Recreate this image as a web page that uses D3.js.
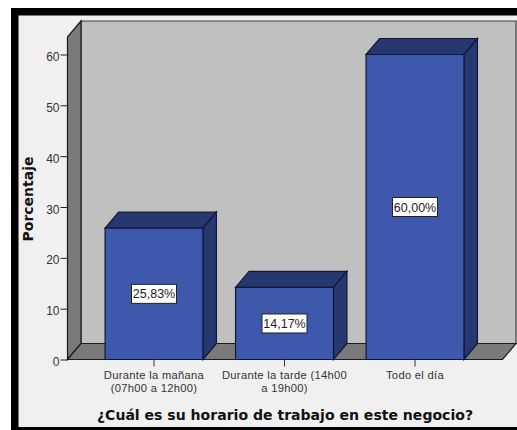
<!DOCTYPE html>
<html><head><meta charset="utf-8">
<script src="https://cdn.jsdelivr.net/npm/d3@7"></script>
<style>html,body{margin:0;padding:0;background:#fff}svg{display:block}</style></head>
<body><svg id="c" width="517" height="430"></svg>
<script>
const categories = ["Durante la mañana", "Durante la tarde", "Todo el día"];
const catLines = [["Durante la mañana","(07h00 a 12h00)"],["Durante la tarde (14h00","a 19h00)"],["Todo el día"]];
const values = [25.83, 14.17, 60.00];
const valueLabels = ["25,83%", "14,17%", "60,00%"];
const yTicks = [0,10,20,30,40,50,60];
const yTitle = "Porcentaje";
const xTitle = "¿Cuál es su horario de trabajo en este negocio?";

const svg = d3.select("#c");
const y = d3.scaleLinear().domain([0,60]).range([359.5,54.5]);
const x = d3.scaleBand().domain(categories).range([88.75,480.25]).paddingInner(0.25).paddingOuter(0.125);
const dx = 13.5, dy = 16;
const L = 67.5, R = 502.5, B = y(0), T = 37;
const line = d3.line();
const poly = (pts,fill,stroke="#1c1c1c",w=1.2)=>svg.append("path").attr("d",line(pts)+"Z").attr("fill",fill).attr("stroke",stroke).attr("stroke-width",w).attr("stroke-linejoin","miter");

// background and frame
svg.append("rect").attr("x",11).attr("y",8).attr("width",506).attr("height",422).attr("fill","#000");
svg.append("rect").attr("x",18.5).attr("y",15.5).attr("width",498.5).attr("height",411.5).attr("fill","#f0f0f0");

// walls
poly([[L+dx,T-dy],[R+dx,T-dy],[R+dx,B-dy],[L+dx,B-dy]],"#c0c0c0","#3a3a3a");
poly([[L,T],[L+dx,T-dy],[L+dx,B-dy],[L,B]],"#7a7a7a");
poly([[L,B],[L+dx,B-dy],[R+dx,B-dy],[R,B]],"#7a7a7a");

// bars
categories.forEach((c,i)=>{
  const x0=x(c), x1=x0+x.bandwidth(), yt=y(values[i]);
  poly([[x0,yt],[x0+dx,yt-dy],[x1+dx,yt-dy],[x1,yt]],"#26386f","#10183a");
  poly([[x1,yt],[x1+dx,yt-dy],[x1+dx,B-dy],[x1,B]],"#26386f","#10183a");
  poly([[x0,yt],[x1,yt],[x1,B],[x0,B]],"#3e59ab","#10183a");
});

// y axis
const gy = svg.append("g").attr("transform",`translate(${L},0)`)
  .call(d3.axisLeft(y).tickValues(yTicks).tickSize(7).tickPadding(1));
gy.select(".domain").remove();
gy.selectAll("line").attr("stroke","#222").attr("stroke-width",1);
gy.selectAll("text").attr("font-family","Liberation Sans").attr("font-size",12).attr("fill","#333").attr("dy","0.5em");

// x axis
const gx = svg.append("g").attr("transform",`translate(0,${B})`)
  .call(d3.axisBottom(x).tickSize(7).tickFormat(""));
gx.select(".domain").remove();
gx.selectAll("line").attr("stroke","#333").attr("stroke-width",1);
categories.forEach((c,i)=>{
  const cx = x(c)+x.bandwidth()/2;
  const t = svg.append("text").attr("y",378.6).attr("text-anchor","middle")
    .attr("font-family","Liberation Sans").attr("font-size",11.2).attr("letter-spacing",0.3).attr("fill","#333");
  catLines[i].forEach((s,j)=>{
    t.append("tspan").attr("x",cx).attr("dy",j?13:0).text(s);
  });
});

// value labels
categories.forEach((c,i)=>{
  const cx=x(c)+x.bandwidth()/2, cy=y(values[i]/2);
  svg.append("rect").attr("x",cx-22.5).attr("y",cy-9.5).attr("width",45).attr("height",19).attr("fill","#fff").attr("stroke","#222").attr("stroke-width",1);
  svg.append("text").attr("x",cx).attr("y",cy+4.5).attr("text-anchor","middle").attr("font-family","Liberation Sans").attr("font-size",12.5).attr("fill","#222").text(valueLabels[i]);
});

// titles
svg.append("text").attr("x",285).attr("y",420).attr("text-anchor","middle").attr("font-family","DejaVu Sans").attr("font-weight","bold").attr("font-size",14.05).attr("fill","#111").text(xTitle);
svg.append("text").attr("transform","translate(33,199) rotate(-90)").attr("text-anchor","middle").attr("font-family","DejaVu Sans").attr("font-weight","bold").attr("font-size",14).attr("fill","#111").text(yTitle);
</script></body></html>
